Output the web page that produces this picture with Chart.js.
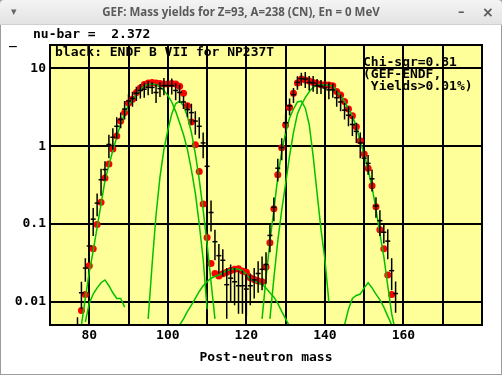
<!DOCTYPE html>
<html>
<head>
<meta charset="utf-8">
<script src="https://cdn.jsdelivr.net/npm/chart.js@4.4.1/dist/chart.umd.min.js"></script>
<style>
  html, body { margin: 0; padding: 0; background: #fff; }
  body { width: 502px; height: 375px; position: relative; overflow: hidden; }
  #frame { position: absolute; left: 0; top: 0; width: 500px; height: 373px; border: 1px solid #9c9c9c; background: #fff; }
  #titlebar { position: absolute; left: 0; top: 0; width: 502px; height: 24px; border-radius: 4px 4px 0 0;
    background: linear-gradient(#f4f4f4, #e3e3e3); border-bottom: 1px solid #cfcfcf; z-index: 2; }
  #titlebar span { position: absolute; top: 0; line-height: 24px; color: #5a5a5a; }
  #ttl { left: 0; width: 482px; text-align: center; font: bold 11.5px "Noto Sans", sans-serif; }
  #menu { left: 11px; font: 11px "DejaVu Sans"; color: #666 !important; }
  #min { left: 458px; font: bold 13px "DejaVu Sans"; }
  #cls { left: 482px; font: bold 14px "DejaVu Sans"; }
  #plot { position: absolute; left: 0; top: 0; z-index: 1; }
</style>
</head>
<body>
<div id="frame"></div>
<div id="titlebar"><span id="menu">&#9662;</span><span id="ttl">GEF: Mass yields for Z=93, A=238 (CN), En = 0 MeV</span><span id="min">&#8211;</span><span id="cls">&#215;</span></div>
<canvas id="plot" width="502" height="375"></canvas>
<script>
// GEF calculated post-neutron yields (red dots)
const gefMass = [78, 79, 80, 81, 82, 83, 84, 85, 86, 87, 88, 89, 90, 91, 92, 93, 94, 95, 96, 97,
  98, 99, 100, 101, 102, 103, 104, 105, 106, 107, 108, 109, 110, 111, 112, 113, 114, 115, 116, 117,
  118, 119, 120, 121, 122, 123, 124, 125, 126, 127, 128, 129, 130, 131, 132, 133, 134, 135, 136, 137,
  138, 139, 140, 141, 142, 143, 144, 145, 146, 147, 148, 149, 150, 151, 152, 153, 154, 155, 156, 157];
const gefYield = [0.0077, 0.0123, 0.029, 0.048, 0.098, 0.19, 0.39, 0.59, 0.92, 1.35,
  2.1, 2.7, 3.6, 4.0, 4.9, 5.6, 6.2, 6.5, 6.6, 6.5,
  6.4, 6.3, 6.3, 6.4, 6.3, 5.9, 4.8, 3.3, 2.05, 1.04,
  0.47, 0.18, 0.067, 0.031, 0.023, 0.0213, 0.0229, 0.0238, 0.0252, 0.026,
  0.0265, 0.0247, 0.0238, 0.0203, 0.0192, 0.0184, 0.018, 0.0278, 0.057, 0.156,
  0.43, 0.95, 1.87, 3.15, 4.8, 6.5, 7.3, 7.1, 6.9, 6.6,
  6.4, 6.15, 6.15, 6.1, 5.98, 5.05, 4.54, 3.76, 3.0, 2.46,
  1.78, 1.17, 0.79, 0.52, 0.31, 0.166, 0.084, 0.048, 0.022, 0.0123];

// ENDF/B-VII yields for Np237 thermal, with uncertainties (black)
const endfMass = [77, 78, 79, 80, 81, 82, 83, 84, 85, 86, 87, 88, 89, 90, 91, 92, 93, 94, 95, 96,
  97, 98, 99, 100, 101, 102, 103, 104, 105, 106, 107, 108, 109, 110, 111, 112, 113, 114, 115, 116,
  117, 118, 119, 120, 121, 122, 123, 124, 125, 126, 127, 128, 129, 130, 131, 132, 133, 134, 135, 136,
  137, 138, 139, 140, 141, 142, 143, 144, 145, 146, 147, 148, 149, 150, 151, 152, 153, 154, 155, 156,
  157, 158];
const endfYield = [0.0045, 0.013, 0.027, 0.052, 0.115, 0.185, 0.37, 0.5, 1.05, 1.3,
  1.8, 2.2, 3.0, 3.8, 4.1, 4.8, 5.2, 5.4, 5.7, 5.7,
  4.9, 5.5, 6.0, 6.0, 6.0, 5.2, 4.9, 3.7, 2.95, 2.7,
  2.1, 1.8, 1.1, 0.55, 0.14, 0.059, 0.039, 0.034, 0.0165, 0.02,
  0.018, 0.016, 0.016, 0.0145, 0.016, 0.019, 0.023, 0.026, 0.03, 0.071,
  0.163, 0.52, 0.96, 2.0, 3.3, 4.6, 6.6, 7.4, 7.3, 6.6,
  6.5, 6.0, 5.9, 5.6, 5.3, 5.3, 4.2, 3.7, 2.9, 2.5,
  1.9, 1.55, 1.1, 0.7, 0.6, 0.38, 0.17, 0.11, 0.078, 0.06,
  0.025, 0.0127];
const endfErr = [0.0018, 0.005, 0.009, 0.018, 0.045, 0.06, 0.14, 0.14, 0.35, 0.4,
  0.55, 0.5, 0.8, 0.9, 0.9, 1.0, 1.1, 1.2, 1.2, 1.0,
  1.3, 1.2, 1.5, 1.3, 1.4, 1.3, 1.3, 0.7, 0.6, 0.8,
  0.7, 0.55, 0.4, 0.25, 0.06, 0.025, 0.016, 0.013, 0.0105, 0.01,
  0.009, 0.009, 0.009, 0.008, 0.007, 0.008, 0.01, 0.012, 0.013, 0.028,
  0.055, 0.17, 0.3, 0.55, 0.8, 1.0, 1.3, 1.4, 1.7, 1.4,
  1.5, 1.3, 1.2, 1.2, 1.3, 1.1, 1.0, 0.9, 0.7, 0.7,
  0.55, 0.45, 0.4, 0.2, 0.17, 0.12, 0.05, 0.04, 0.022, 0.025,
  0.011, 0.0055];

// fission mode contributions (green)
const s3LightMass = [79, 80, 81, 82, 83, 84, 85, 86, 87, 88, 89];
const s3LightYield = [0.0055, 0.0095, 0.0125, 0.015, 0.0175, 0.019, 0.016, 0.013, 0.011, 0.011, 0.0085];
const s2LightMass = [78, 79, 80, 81, 82, 83, 84, 85, 86, 87, 88, 89, 90, 91, 92, 93, 94,
  95, 96, 97, 98, 99, 100, 101, 102, 103, 104, 105, 106, 107, 108, 109, 110];
const s2LightYield = [0.005, 0.011, 0.024, 0.045, 0.09, 0.18, 0.36, 0.57, 0.88, 1.3, 1.95, 2.6, 3.4, 3.9, 4.6, 5.3, 5.9,
  6.2, 6.3, 6.2, 5.8, 5.2, 4.5, 3.7, 2.8, 2.0, 1.4, 0.9, 0.5, 0.25, 0.1, 0.035, 0.008];
const s1LightMass = [95, 96, 97, 98, 99, 100, 101, 102, 103, 104, 105, 106, 107, 108, 109, 110, 111, 112];
const s1LightYield = [0.006, 0.03, 0.13, 0.4, 0.9, 1.6, 2.6, 3.5, 3.8, 3.3, 2.4, 1.5, 0.8, 0.37, 0.15, 0.055, 0.018, 0.006];
const symMass = [103, 104, 105, 106, 107, 108, 109, 110, 111, 112, 113, 114, 115, 116, 117,
  118, 119, 120, 121, 122, 123, 124, 125, 126, 127, 128, 129, 130, 131];
const symYield = [0.005, 0.006, 0.0075, 0.009, 0.011, 0.0135, 0.016, 0.018, 0.02, 0.021, 0.022, 0.0235, 0.025, 0.026, 0.0265,
  0.026, 0.025, 0.0225, 0.0195, 0.0185, 0.0175, 0.0165, 0.015, 0.013, 0.0115, 0.0095, 0.0075, 0.006, 0.0048];
const s1HeavyMass = [124, 125, 126, 127, 128, 129, 130, 131, 132, 133, 134, 135, 136, 137, 138, 139, 140, 141];
const s1HeavyYield = [0.006, 0.02, 0.06, 0.15, 0.4, 0.85, 1.5, 2.3, 3.0, 3.7, 3.8, 3.1, 1.9, 0.75, 0.25, 0.085, 0.035, 0.01];
const s2HeavyMass = [126, 127, 128, 129, 130, 131, 132, 133, 134, 135, 136, 137, 138, 139, 140, 141, 142,
  143, 144, 145, 146, 147, 148, 149, 150, 151, 152, 153, 154, 155, 156, 157, 158];
const s2HeavyYield = [0.006, 0.02, 0.06, 0.15, 0.33, 0.75, 1.5, 2.6, 3.4, 4.2, 5.0, 5.7, 6.1, 6.1, 6.1, 6.05, 5.95,
  5.05, 4.5, 3.75, 3.0, 2.45, 1.77, 1.15, 0.78, 0.5, 0.3, 0.155, 0.075, 0.038, 0.016, 0.007, 0.004];
const s3HeavyMass = [145, 146, 147, 148, 149, 150, 151, 152, 153, 154, 155, 156, 157];
const s3HeavyYield = [0.005, 0.008, 0.011, 0.012, 0.0125, 0.015, 0.0175, 0.015, 0.0125, 0.0105, 0.0085, 0.0065, 0.005];

// axis ticks
const xTickLabels = [80, 100, 120, 140, 160];
const yTickValues = [0.01, 0.1, 1, 10];

const monoFont = '"DejaVu Sans Mono", monospace';
const green = '#00c000';

function pairs(xs, ys) {
  return xs.map((x, i) => ({ x: x, y: ys[i] }));
}

// error bars as separate line segments, broken by nulls
const errBars = [];
endfMass.forEach((m, i) => {
  errBars.push({ x: m, y: endfYield[i] - endfErr[i] });
  errBars.push({ x: m, y: endfYield[i] + endfErr[i] });
  errBars.push({ x: m, y: null });
});

function modeLine(xs, ys) {
  return {
    type: 'line',
    data: pairs(xs, ys),
    borderColor: green,
    borderWidth: 1.5,
    pointRadius: 0,
    tension: 0,
    order: 2
  };
}

// yellow plot background and black frame
const plotFrame = {
  id: 'plotFrame',
  beforeDraw(chart) {
    const a = chart.chartArea;
    const ctx = chart.ctx;
    ctx.save();
    ctx.fillStyle = '#ffff99';
    ctx.fillRect(a.left, a.top, a.right - a.left, a.bottom - a.top);
    ctx.restore();
  },
  afterDraw(chart) {
    const a = chart.chartArea;
    const ctx = chart.ctx;
    ctx.save();
    ctx.strokeStyle = '#000';
    ctx.lineWidth = 2;
    ctx.strokeRect(a.left, a.top, a.right - a.left, a.bottom - a.top);
    ctx.fillStyle = '#000';
    ctx.font = 'bold 13px ' + monoFont;
    ctx.textBaseline = 'middle';
    ctx.fillText('nu-bar =  2.372', 33, 35);
    ctx.fillText('black: ENDF B VII for NP237T', 55, 53);
    ctx.fillText('Chi-sqr=0.81', 363, 63);
    ctx.fillText('(GEF-ENDF,', 363, 75);
    ctx.fillText(' Yields>0.01%)', 363, 87);
    ctx.textBaseline = 'alphabetic';
    ctx.fillText('_', 9, 44);
    ctx.restore();
  }
};

new Chart(document.getElementById('plot'), {
  type: 'scatter',
  data: {
    datasets: [
      {
        label: 'GEF',
        data: pairs(gefMass, gefYield),
        backgroundColor: '#ff0000',
        borderWidth: 0,
        pointRadius: 3.5,
        order: 3
      },
      modeLine(s3LightMass, s3LightYield),
      modeLine(s2LightMass, s2LightYield),
      modeLine(s1LightMass, s1LightYield),
      modeLine(symMass, symYield),
      modeLine(s1HeavyMass, s1HeavyYield),
      modeLine(s2HeavyMass, s2HeavyYield),
      modeLine(s3HeavyMass, s3HeavyYield),
      {
        type: 'line',
        label: 'ENDF errors',
        data: errBars,
        borderColor: '#000',
        borderWidth: 1.5,
        pointRadius: 0,
        spanGaps: false,
        order: 1
      },
      {
        label: 'ENDF',
        data: pairs(endfMass, endfYield),
        pointStyle: 'line',
        pointRadius: 2.5,
        borderColor: '#000',
        borderWidth: 1.5,
        order: 1
      }
    ]
  },
  options: {
    responsive: false,
    animation: false,
    devicePixelRatio: 1,
    layout: { padding: { top: 45, right: 20, left: 0, bottom: 0 } },
    plugins: {
      legend: { display: false },
      tooltip: { enabled: false }
    },
    scales: {
      x: {
        type: 'linear',
        min: 70,
        max: 180,
        afterFit: s => { s.height = 50; },
        ticks: {
          stepSize: 10,
          autoSkip: false,
          maxRotation: 0,
          padding: 3,
          color: '#000',
          font: { family: monoFont, size: 13, weight: 'bold' },
          callback: v => xTickLabels.includes(v) ? String(v) : ''
        },
        grid: { color: '#000', lineWidth: 2, drawTicks: false },
        border: { color: '#000', width: 2 },
        title: {
          display: true,
          text: 'Post-neutron mass',
          color: '#000',
          font: { family: monoFont, size: 13, weight: 'bold' },
          padding: { top: 0, bottom: 10 }
        }
      },
      y: {
        type: 'logarithmic',
        min: 0.005,
        max: 20,
        afterFit: s => { s.width = 50; },
        afterBuildTicks: s => { s.ticks = yTickValues.map(v => ({ value: v })); },
        ticks: {
          padding: 4,
          color: '#000',
          font: { family: monoFont, size: 13, weight: 'bold' },
          callback: v => String(v)
        },
        grid: { color: '#000', lineWidth: 2, drawTicks: false },
        border: { color: '#000', width: 2 }
      }
    }
  },
  plugins: [plotFrame]
});
</script>
</body>
</html>
